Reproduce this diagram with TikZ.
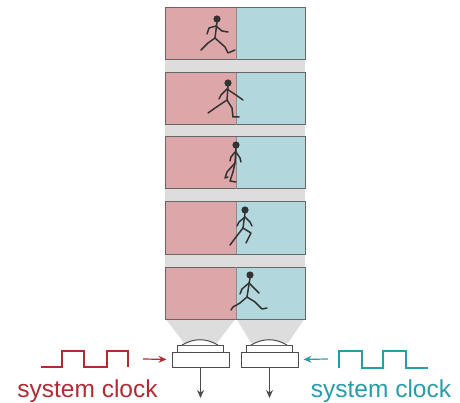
\documentclass[tikz,border=0pt]{standalone}
\usepackage{fontspec}
\setmainfont{Liberation Sans}
\usetikzlibrary{arrows.meta}

\definecolor{runred}{RGB}{221,167,170}
\definecolor{runteal}{RGB}{178,216,222}
\definecolor{clkred}{RGB}{178,42,50}
\definecolor{clkteal}{RGB}{38,158,170}
\definecolor{band}{RGB}{221,221,221}

\tikzset{
  frame/.style={draw=black!60, line width=1pt},
  figure/.style={black!80, line width=1.5pt, line cap=round, line join=round},
  lens/.style={draw=black!70, line width=1pt, fill=white},
  wave/.style={line width=1.6pt},
  label/.style={anchor=base, font=\fontsize{24.5}{28}\selectfont}
}

\begin{document}
\begin{tikzpicture}[x=1pt, y=-1pt, >={Stealth[length=8pt,width=7pt]}]
    \useasboundingbox (0,0) rectangle (460,403);

    % film strip with five frames
    \fill [band] (165,8) rectangle (305,318);
    \fill [band] (165,318) -- (236,318) -- (217,343) -- (184,343) -- cycle;
    \fill [band] (236,318) -- (305,318) -- (288,343) -- (251,343) -- cycle;
    \foreach \t in {8,73,137,202,267} {
        \fill [runred] (165,\t) rectangle (236,\t+52);
        \fill [runteal] (236,\t) rectangle (305,\t+52);
        \draw [frame] (165,\t) rectangle (305,\t+52);
        \draw [black!45, line width=1pt] (236,\t) -- (236,\t+52);
    }

    % walker, frame 1
    \fill [black!80] (217,19) circle (3.6);
    \draw [figure] (217,22) -- (215,38);
    \draw [figure] (216,26) -- (209,28) -- (207,34);
    \draw [figure] (216,26) -- (222,31) -- (228,32);
    \draw [figure] (215,38) -- (208,43) -- (201,50);
    \draw [figure] (215,38) -- (225,47) -- (228,53) -- (235,50);
    % walker, frame 2
    \fill [black!80] (228,83) circle (3.6);
    \draw [figure] (228,86) -- (227,100);
    \draw [figure] (227,89) -- (221,95) -- (219,99);
    \draw [figure] (227,89) -- (236,95) -- (243,100);
    \draw [figure] (227,100) -- (218,106) -- (208,113);
    \draw [figure] (227,100) -- (232,108) -- (233,117) -- (239,117);
    % walker, frame 3
    \fill [black!80] (236,145) circle (3.6);
    \draw [figure] (236,148) -- (235,163);
    \draw [figure] (236,152) -- (240,158) -- (241,162);
    \draw [figure] (235,152) -- (231,157) -- (230,161);
    \draw [figure] (235,163) -- (227,172) -- (225,178) -- (228,177);
    \draw [figure] (235,163) -- (233,172) -- (230,181) -- (236,182);
    % walker, frame 4
    \fill [black!80] (245,210) circle (3.6);
    \draw [figure] (245,213) -- (243,228);
    \draw [figure] (245,217) -- (250,222) -- (252,226);
    \draw [figure] (245,217) -- (239,222) -- (237,226);
    \draw [figure] (243,228) -- (236,237) -- (230,245);
    \draw [figure] (243,228) -- (251,233) -- (246,243);
    % walker, frame 5
    \fill [black!80] (250,275) circle (3.6);
    \draw [figure] (250,278) -- (247,297);
    \draw [figure] (249,283) -- (242,289) -- (240,294);
    \draw [figure] (249,283) -- (255,289) -- (259,293);
    \draw [figure] (247,297) -- (240,303) -- (233,307) -- (231,310);
    \draw [figure] (247,297) -- (255,302) -- (262,309) -- (267,308);

    % two cameras
    \node [lens, minimum width=57pt, minimum height=15pt, inner sep=0] (lensL) at (200.5,359.5) {};
    \node [lens, minimum width=57pt, minimum height=15pt, inner sep=0] (lensR) at (269.5,359.5) {};
    \draw [lens] (177,345) rectangle (223,352);
    \draw [lens] (246,345) rectangle (292,352);
    \draw [lens] (182,345) to [bend left=30] (218,345);
    \draw [lens] (251,345) to [bend left=30] (287,345);
    \coordinate (outL) at (200.5,398);
    \coordinate (outR) at (269.5,398);
    \draw [->, black!70, line width=1pt] (lensL) -- (outL);
    \draw [->, black!70, line width=1pt] (lensR) -- (outR);

    % clocks
    \draw [wave, clkred] (41,367) -- (62,367) -- (62,351) -- (84,351) -- (84,367)
        -- (107,367) -- (107,351) -- (128,351) -- (128,367);
    \coordinate (clkL) at (143,359);
    \draw [->, clkred, line width=1.2pt, shorten >=5pt] (clkL) -- (lensL.west);
    \node [label, clkred] (textL) at (87.5,397) {system clock};

    \draw [wave, clkteal] (339,368) -- (339,351) -- (362,351) -- (362,368) -- (383,368)
        -- (383,351) -- (406,351) -- (406,368) -- (428,368);
    \coordinate (clkR) at (328,359);
    \draw [->, clkteal, line width=1.2pt, shorten >=5pt] (clkR) -- (lensR.east);
    \node [label, clkteal] (textR) at (381,397) {system clock};
  \end{tikzpicture}
\end{document}
